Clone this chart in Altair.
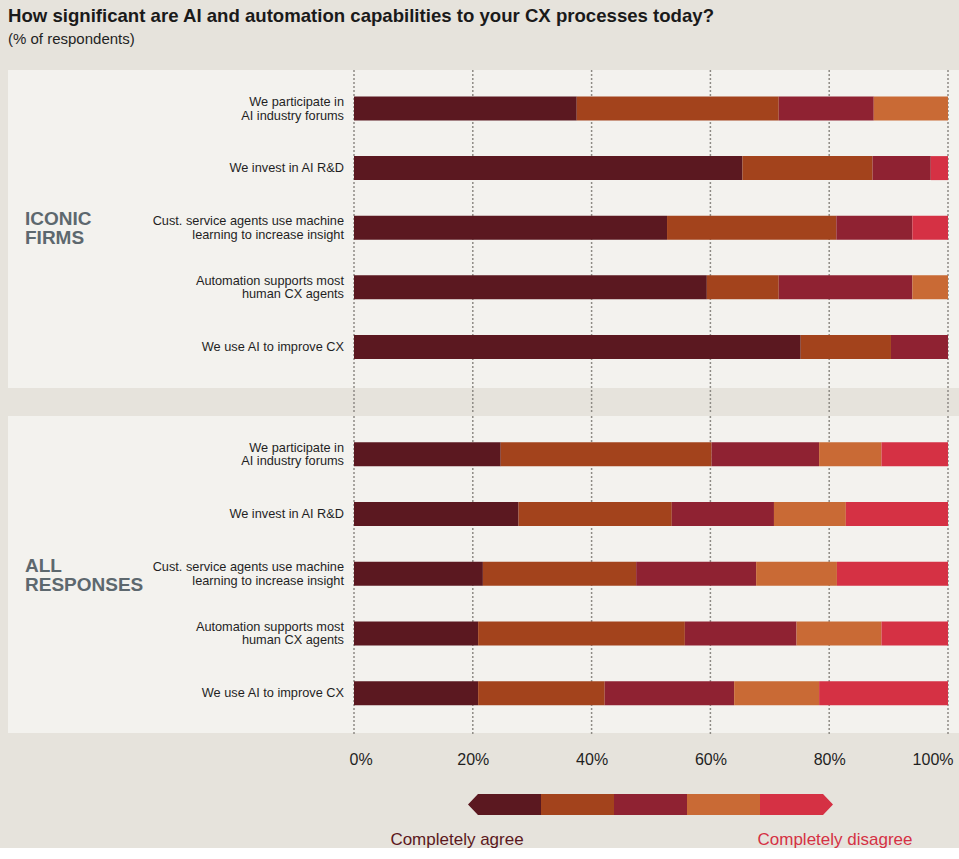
import altair as alt
import pandas as pd

# ---------------- data ----------------
questions = [
    "We participate in|AI industry forums",
    "We invest in AI R&D",
    "Cust. service agents use machine|learning to increase insight",
    "Automation supports most|human CX agents",
    "We use AI to improve CX",
]
levels = ["Completely agree", "Agree", "Neutral", "Disagree", "Completely disagree"]
colors = ["#5b1820", "#a3431c", "#8f2232", "#c96a35", "#d53144"]
ticks = [0, 20, 40, 60, 80, 100]
groups = ["ICONIC\nFIRMS", "ALL\nRESPONSES"]
legend_ends = ["Completely agree", "Completely disagree"]

# ICONIC FIRMS, one list per answer level (in question order)
iconic_l1 = [37.5, 65.4, 52.7, 59.4, 75.2]
iconic_l2 = [34.0, 21.9, 28.5, 12.1, 15.2]
iconic_l3 = [16.0, 9.8, 12.8, 22.5, 9.6]
iconic_l4 = [12.5, 0.0, 0.0, 6.0, 0.0]
iconic_l5 = [0.0, 2.9, 6.0, 0.0, 0.0]

# ALL RESPONSES
all_l1 = [24.7, 27.7, 21.7, 20.9, 20.9]
all_l2 = [35.5, 25.8, 25.8, 34.8, 21.3]
all_l3 = [18.1, 17.2, 20.2, 18.8, 21.8]
all_l4 = [10.5, 12.1, 13.6, 14.3, 14.3]
all_l5 = [11.2, 17.2, 18.7, 11.2, 21.7]


def long_df(series):
    rows = []
    for li, (lvl, vals) in enumerate(zip(levels, series)):
        for q, v in zip(questions, vals):
            rows.append({"question": q, "level": lvl, "order": li, "value": v})
    return pd.DataFrame(rows)


iconic_df = long_df([iconic_l1, iconic_l2, iconic_l3, iconic_l4, iconic_l5])
all_df = long_df([all_l1, all_l2, all_l3, all_l4, all_l5])
q_df = pd.DataFrame({"question": questions})

# ---------------- style ----------------
PANEL_BG = "#f3f2ee"
PAGE_BG = "#e6e3dc"
FONT = "Liberation Sans"
TEXT = "#1f1f1f"
W = 594
LEFT = 346
BAND = 24

x_scale = alt.Scale(domain=[0, 100], nice=False, zero=True)
color_scale = alt.Scale(domain=levels, range=colors)


def band_scale(height, step, first_center):
    n = len(questions)
    pin = 1 - BAND / step
    pout = (height / step - (n - pin)) / 2
    leftover = height - step * (n - pin)
    align = (first_center - BAND / 2) / leftover
    return alt.Scale(domain=questions, paddingInner=pin, paddingOuter=pout, align=align)


def panel(df, group_text, height, step, first_center, show_axis, grid_extra, group_dy):
    y_scale = band_scale(height, step, first_center)
    y_enc = alt.Y("question:N", scale=y_scale, axis=None)
    if show_axis:
        x_axis = alt.Axis(
            title=None, values=ticks, labelExpr="datum.value + '%'",
            labelFlush=True, labelFlushOffset=5, domain=False, ticks=False, grid=False,
            labelFont=FONT, labelFontSize=16, labelColor=TEXT,
            labelPadding=18, zindex=1,
        )
    else:
        x_axis = None

    bg = alt.Chart(pd.DataFrame({"panel": [group_text]})).mark_rect(
        color=PANEL_BG
    ).encode(
        x=alt.value(-LEFT), x2=alt.value(W + 11),
        y=alt.value(0), y2=alt.value(height),
    )
    grid = alt.Chart(pd.DataFrame({"tick": ticks})).mark_rule(
        color="#8e8b85", strokeDash=[2, 2], strokeWidth=1.5
    ).encode(
        x=alt.X("tick:Q", scale=x_scale, axis=x_axis),
        y=alt.value(0), y2=alt.value(height + grid_extra),
    )
    bars = alt.Chart(df).mark_bar().encode(
        x=alt.X("value:Q", stack="zero", scale=x_scale, axis=x_axis),
        y=y_enc,
        color=alt.Color("level:N", scale=color_scale, legend=None),
        order=alt.Order("order:Q"),
    )
    qtext = dict(align="right", baseline="middle", font=FONT, fontSize=12.75,
                 color=TEXT, lineHeight=13.5, lineBreak="|")
    q_two = alt.Chart(q_df).transform_filter(
        "indexof(datum.question, '|') >= 0"
    ).mark_text(dy=-6.5, **qtext).encode(
        x=alt.value(-10), y=y_enc, text="question:N"
    )
    q_one = alt.Chart(q_df).transform_filter(
        "indexof(datum.question, '|') < 0"
    ).mark_text(**qtext).encode(
        x=alt.value(-10), y=y_enc, text="question:N"
    )
    label = alt.Chart(
        pd.DataFrame({"question": [questions[2]], "group": [group_text]})
    ).mark_text(
        align="left", baseline="middle", font=FONT, fontSize=19,
        fontWeight="bold", color="#5d686e", lineHeight=19, lineBreak="\n", dy=group_dy,
    ).encode(
        x=alt.value(-329), y=y_enc, text="group:N",
    )
    return alt.layer(bg, grid, bars, q_two, q_one, label).properties(width=W, height=height)


top = panel(iconic_df, groups[0], 318, 59.6, 38.5, False, 26, -8.3)
bottom = panel(all_df, groups[1], 317, 59.75, 38.2, True, 2, -7.3)

# ---------------- legend ----------------
leg_df = pd.DataFrame({"level": levels, "order": list(range(5))})
lx = alt.X(
    "level:N",
    scale=alt.Scale(domain=levels, range=[114, 479], paddingInner=0, paddingOuter=0),
    axis=None,
)

leg_bars = alt.Chart(leg_df).mark_bar().encode(
    x=lx, color=alt.Color("level:N", scale=color_scale, legend=None)
)
cut_left = alt.Chart(leg_df.iloc[[0]]).mark_point(
    shape="M0,-1L0.95,-1L0,0ZM0,0L0,1L0.95,1Z", size=441, filled=True,
    color=PAGE_BG, opacity=1, strokeWidth=0, xOffset=-36.5,
).encode(x=lx)
cut_right = alt.Chart(leg_df.iloc[[4]]).mark_point(
    shape="M0,-1L-0.95,-1L0,0ZM0,0L0,1L-0.95,1Z", size=441, filled=True,
    color=PAGE_BG, opacity=1, strokeWidth=0, xOffset=36.5,
).encode(x=lx)
txt_left = alt.Chart(
    pd.DataFrame({"level": [levels[0]], "label": [legend_ends[0]]})
).mark_text(
    font=FONT, fontSize=17, color=colors[0], dx=-47.5, dy=35.5,
    align="center", baseline="middle",
).encode(x=lx, text="label:N")
txt_right = alt.Chart(
    pd.DataFrame({"level": [levels[4]], "label": [legend_ends[1]]})
).mark_text(
    font=FONT, fontSize=17, color=colors[4], dx=38.5, dy=35.5,
    align="center", baseline="middle",
).encode(x=lx, text="label:N")

legend = alt.layer(leg_bars, cut_left, cut_right, txt_left, txt_right).properties(
    width=W, height=21
)

chart = alt.vconcat(
    alt.vconcat(top, bottom, spacing=0),
    legend,
    spacing=27,
).properties(
    title=alt.TitleParams(
        text="How significant are AI and automation capabilities to your CX processes today?",
        subtitle="(% of respondents)",
        anchor="start", font=FONT, fontSize=18.6, fontWeight="bold", color="#1a1a1a",
        subtitleFont=FONT, subtitleFontSize=15, subtitleColor=TEXT,
        subtitlePadding=7, offset=22,
    ),
    padding={"left": 8, "top": 6, "right": 0, "bottom": 0},
    background=PAGE_BG,
).configure_view(strokeWidth=0)

chart.save("out.html", embed_options={"renderer": "svg", "actions": False})
